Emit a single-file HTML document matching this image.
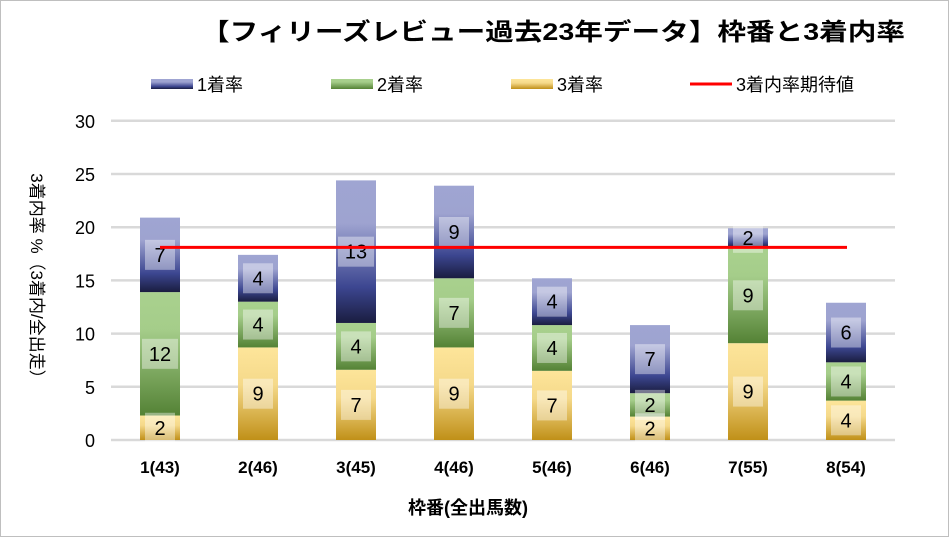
<!DOCTYPE html>
<html><head><meta charset="utf-8"><style>
body{margin:0;background:#fff;font-family:"Liberation Sans","Noto Sans CJK JP",sans-serif}
#wrap{position:relative;width:949px;height:537px;overflow:hidden}
</style></head><body>
<div id="wrap">
<svg id="chart" width="949" height="537">
<defs>
<linearGradient id="gy" x1="0" y1="0" x2="0" y2="1"><stop offset="0" stop-color="#fde59a"/><stop offset="0.4" stop-color="#f5d98a"/><stop offset="1" stop-color="#c09018"/></linearGradient>
<linearGradient id="gg" x1="0" y1="0" x2="0" y2="1"><stop offset="0" stop-color="#a9d18e"/><stop offset="0.3" stop-color="#a5cd8a"/><stop offset="1" stop-color="#548235"/></linearGradient>
<linearGradient id="gb" x1="0" y1="0" x2="0" y2="1"><stop offset="0" stop-color="#9fa5d2"/><stop offset="0.3" stop-color="#9ea3d0"/><stop offset="0.75" stop-color="#3c4690"/><stop offset="1" stop-color="#1a1d40"/></linearGradient>
</defs>
<rect x="0.5" y="0.5" width="948" height="536" fill="#fff" stroke="#bfbfbf"/>
<text x="201" y="40" font-size="24" font-weight="bold" textLength="704" lengthAdjust="spacingAndGlyphs" fill="#000">【フィリーズレビュー過去23年データ】枠番と3着内率</text>
<g id="legend">
<g><rect x="151" y="79" width="42" height="10" fill="url(#gb)"/><text x="197" y="91" font-size="18">1着率</text></g>
<g><rect x="331" y="79" width="42" height="10" fill="url(#gg)"/><text x="377" y="91" font-size="18">2着率</text></g>
<g><rect x="511" y="79" width="42" height="10" fill="url(#gy)"/><text x="557" y="91" font-size="18">3着率</text></g>
<g><line x1="690" y1="84" x2="732" y2="84" stroke="#ff0000" stroke-width="3"/><text x="736" y="91" font-size="18">3着内率期待値</text></g>
</g>
<g id="grid"></g><g id="bars"></g><g id="labels"></g>
<text transform="translate(31,280) rotate(90)" font-size="17" text-anchor="middle" fill="#000">3着内率 %（3着内/全出走）</text>
<text x="468" y="514" font-size="18" font-weight="bold" text-anchor="middle">枠番(全出馬数)</text>
</svg>
</div>
<script>
const categories=["1(43)","2(46)","3(45)","4(46)","5(46)","6(46)","7(55)","8(54)"];
const third=[2.3,8.7,6.6,8.7,6.5,2.2,9.1,3.7];
const second=[11.6,4.3,4.4,6.5,4.3,2.2,9.0,3.6];
const first=[7.0,4.4,13.4,8.7,4.4,6.4,1.8,5.6];
const thirdLabels=[2,9,7,9,7,2,9,4];
const secondLabels=[12,4,4,7,4,2,9,4];
const firstLabels=[7,4,13,9,4,7,2,6];
const yTicks=[0,5,10,15,20,25,30];
const expected=18.1;
const NS="http://www.w3.org/2000/svg";
const y0=440,pxPer=10.64,xStart=111,band=98,bw=40;
const yS=v=>y0-v*pxPer;
const xC=i=>xStart+band*(i+0.5);
function mk(t,a,p){const e=document.createElementNS(NS,t);for(const k in a)e.setAttribute(k,a[k]);p.appendChild(e);return e;}
const grid=document.getElementById('grid'),bars=document.getElementById('bars'),labels=document.getElementById('labels'),svg=document.getElementById('chart');
yTicks.forEach(t=>{
 const l=mk('line',{x1:xStart,x2:xStart+band*8,y1:yS(t),y2:yS(t),stroke:'#d9d9d9','stroke-width':2.5},grid);
 
 
 const tx=mk('text',{x:95,y:yS(t)+7,'font-size':18,'text-anchor':'end',fill:'#000'},grid);
 tx.textContent=t;
 
 
});
const series=[[third,thirdLabels,'gy','third'],[second,secondLabels,'gg','second'],[first,firstLabels,'gb','first']];
categories.forEach((c,i)=>{
 let base=0;
 series.forEach(([vals,labs,g,n])=>{
  const v=vals[i],top=base+v;
  const r=mk('rect',{x:xC(i)-bw/2,y:yS(top),width:bw,height:yS(base)-yS(top),fill:'url(#'+g+')'},bars);
  
  
  const cy=(yS(base)+yS(top))/2;
  const wide=String(labs[i]).length>1;
  const bx=mk('rect',{x:xC(i)-(wide?18:15),y:cy-15,width:wide?36:30,height:30,fill:'#fff','fill-opacity':0.4},labels);
  
  
  const t=mk('text',{x:xC(i),y:cy+7,'font-size':20,'text-anchor':'middle',fill:'#000'},labels);
  t.textContent=labs[i];
  
  
  base=top;
 });
 const xt=mk('text',{x:xC(i),y:473,'font-size':17,'font-weight':'bold','text-anchor':'middle'},svg);
 xt.textContent=c;
 
 
});
const el=mk('line',{x1:xC(0),x2:xC(7)+1,y1:yS(expected),y2:yS(expected),stroke:'#ff0000','stroke-width':3},labels);


</script>
</body></html>
